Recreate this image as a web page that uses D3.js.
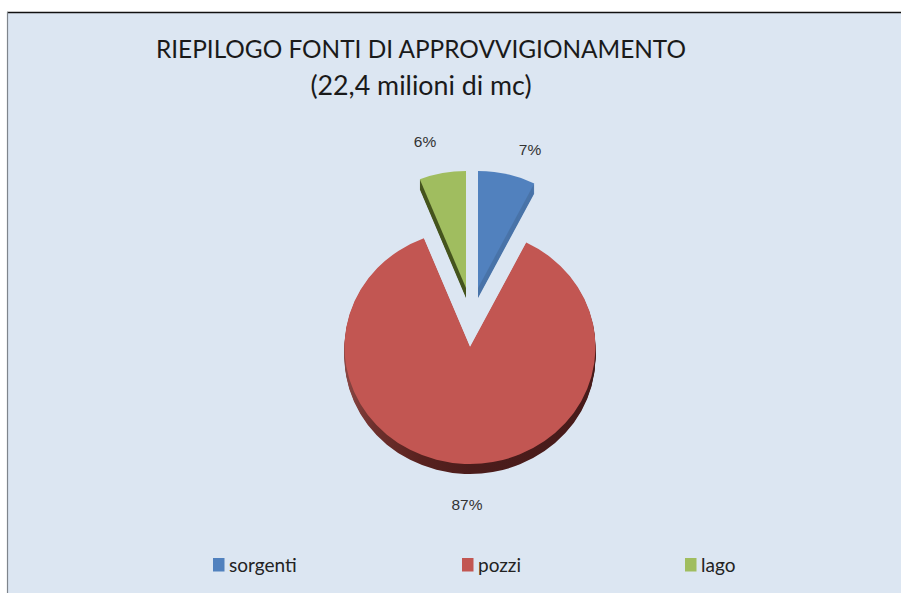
<!DOCTYPE html>
<html><head><meta charset="utf-8">
<script src="https://cdn.jsdelivr.net/npm/d3@7"></script>
<style>html,body{margin:0;padding:0;background:#fff}svg{display:block}</style>
</head><body><div id="c"></div>
<script>
const categories = ["sorgenti", "pozzi", "lago"];
const values = [7.4, 86.6, 6];
const titleLines = ["RIEPILOGO  FONTI DI APPROVVIGIONAMENTO", "(22,4 milioni di mc)"];
const topColors = ["#5181be", "#c25652", "#a0bd5f"];
const sideColors = ["#4a74a9", "url(#redSide)", "#46551f"];

const W = 901, H = 593;
const rx = 125.5, ry = 117, depth = 10;
const svg = d3.select("#c").append("svg").attr("width", W).attr("height", H);

const grad = svg.append("defs").append("linearGradient").attr("id", "redSide")
  .attr("gradientUnits", "userSpaceOnUse").attr("x1", -rx).attr("x2", rx).attr("y1", 0).attr("y2", 0);
[[0, "#8a4744"], [0.12, "#6e302d"], [0.3, "#58221f"], [0.5, "#4b1c1b"], [1, "#471b1a"]]
  .forEach(([o, c]) => grad.append("stop").attr("offset", o).attr("stop-color", c));

svg.append("rect").attr("x", 7).attr("y", 12).attr("width", W - 7).attr("height", H - 12).attr("fill", "#dce6f2");
svg.append("line").attr("x1", 7).attr("x2", W).attr("y1", 12.5).attr("y2", 12.5).attr("stroke", "#111").attr("stroke-width", 1.5);
svg.append("line").attr("x1", 7.5).attr("x2", 7.5).attr("y1", 12).attr("y2", H).attr("stroke", "#7f858c").attr("stroke-width", 1.2);

const title = svg.append("g").attr("font-family", "Lato, sans-serif").attr("fill", "#1a1a1a").attr("text-anchor", "middle").style("white-space", "pre");
title.append("text").attr("x", 421).attr("y", 58).attr("font-size", 25).attr("textLength", 530).attr("lengthAdjust", "spacingAndGlyphs").text(titleLines[0]);
title.append("text").attr("x", 421).attr("y", 94.5).attr("font-size", 26.8).text(titleLines[1]);

const pie = d3.pie().sort(null).value(d => d);
const arcs = pie(values);
const arc = d3.arc().innerRadius(0).outerRadius(rx);
const centers = [[478, 288], [470, 347], [466, 288]];
const order = [1, 0, 2];

order.forEach(i => {
  const g = svg.append("g");
  const [cx, cy] = centers[i];
  g.selectAll("path.side").data(d3.range(depth, 0, -1)).join("path").attr("class", "side")
    .attr("d", arc(arcs[i]))
    .attr("transform", d => `translate(${cx},${cy + d}) scale(1,${ry / rx})`)
    .attr("fill", sideColors[i]);
  g.append("path").attr("d", arc(arcs[i]))
    .attr("transform", `translate(${cx},${cy}) scale(1,${ry / rx})`)
    .attr("fill", topColors[i]);
});

const labelPos = [[530, 155], [467, 510], [425, 147]];
svg.selectAll("text.pct").data(values).join("text").attr("class", "pct")
  .attr("x", (d, i) => labelPos[i][0]).attr("y", (d, i) => labelPos[i][1])
  .attr("text-anchor", "middle").attr("font-family", "'Liberation Sans', sans-serif")
  .attr("font-size", 15.5).attr("fill", "#333")
  .text(d => d3.format(".0f")(d) + "%");

const legendX = [213, 462, 685];
const legend = svg.selectAll("g.leg").data(categories).join("g").attr("class", "leg")
  .attr("transform", (d, i) => `translate(${legendX[i]},558)`);
legend.append("rect").attr("width", 11.5).attr("height", 13.5).attr("fill", (d, i) => topColors[i]);
legend.append("text").attr("x", 16).attr("y", 14).attr("font-family", "Lato, sans-serif")
  .attr("font-size", 19).attr("fill", "#222").text(d => d);
</script></body></html>
